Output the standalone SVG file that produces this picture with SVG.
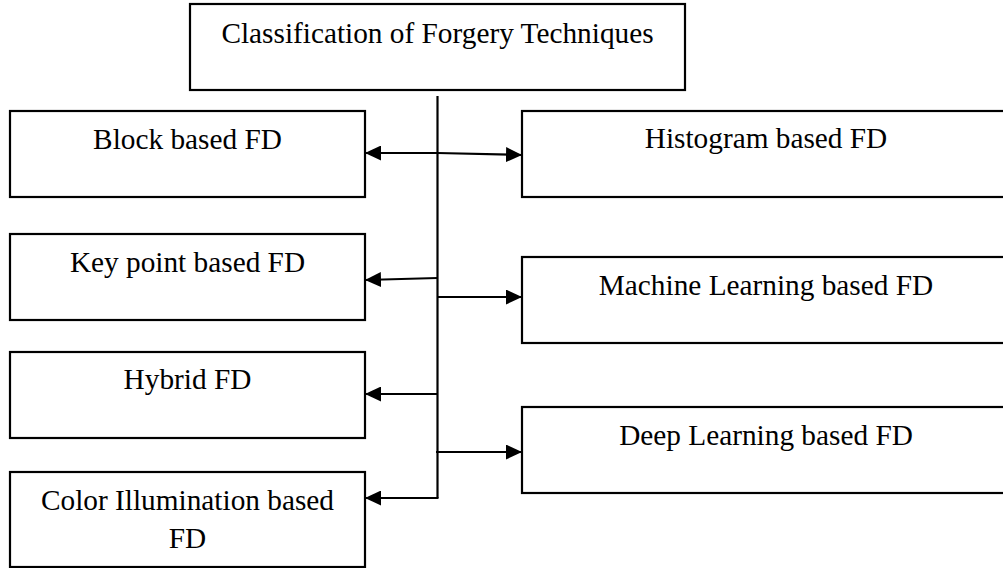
<svg xmlns="http://www.w3.org/2000/svg" width="1003" height="568" viewBox="0 0 1003 568">
  <style>
    .box { fill: #ffffff; stroke: #000000; stroke-width: 2.2; }
    .lbl { font-family: "Liberation Serif", "Times New Roman", serif; font-size: 29.3px; fill: #000000; text-anchor: middle; }
    .wire { fill: none; stroke: #000000; stroke-width: 2.2; }
    .arrow { marker-end: url(#head); }
  </style>
  <defs>
    <marker id="head" markerUnits="userSpaceOnUse" markerWidth="16" markerHeight="15" refX="16" refY="7.5" orient="auto-start-reverse">
      <path d="M0,0 L16,7.5 L0,15 Z" fill="#000000"/>
    </marker>
  </defs>
  <rect width="1003" height="568" fill="#ffffff"/>

  <!-- root -->
  <g id="root">
    <rect class="box" x="190" y="4" width="495" height="86"/>
    <text class="lbl" x="437.5" y="43">Classification of Forgery Techniques</text>
  </g>

  <!-- left column -->
  <g id="block">
    <rect class="box" x="10" y="111" width="355" height="86"/>
    <text class="lbl" x="187.5" y="149">Block based FD</text>
  </g>
  <g id="keypoint">
    <rect class="box" x="10" y="234" width="355" height="86"/>
    <text class="lbl" x="187.5" y="272">Key point based FD</text>
  </g>
  <g id="hybrid">
    <rect class="box" x="10" y="352" width="355" height="86"/>
    <text class="lbl" x="187.5" y="389">Hybrid FD</text>
  </g>
  <g id="color">
    <rect class="box" x="10" y="472" width="355" height="95"/>
    <text class="lbl" x="187.5" y="510">Color Illumination based</text>
    <text class="lbl" x="187.5" y="548">FD</text>
  </g>

  <!-- right column -->
  <g id="histogram">
    <rect class="box" x="522" y="111" width="488" height="86"/>
    <text class="lbl" x="766" y="148">Histogram based FD</text>
  </g>
  <g id="machine">
    <rect class="box" x="522" y="257" width="488" height="86"/>
    <text class="lbl" x="766" y="295">Machine Learning based FD</text>
  </g>
  <g id="deep">
    <rect class="box" x="522" y="407" width="488" height="86"/>
    <text class="lbl" x="766" y="445">Deep Learning based FD</text>
  </g>

  <!-- connectors -->
  <g id="connectors">
    <line class="wire" x1="437.5" y1="96" x2="437.5" y2="498"/>
    <polyline class="wire" points="365,153 437.5,153 522,155" marker-start="url(#head)" marker-end="url(#head)"/>
    <line class="wire arrow" x1="437.5" y1="278" x2="365" y2="280"/>
    <line class="wire arrow" x1="437.5" y1="297" x2="522" y2="297"/>
    <line class="wire arrow" x1="437.5" y1="394" x2="365" y2="394"/>
    <line class="wire arrow" x1="436" y1="452" x2="522" y2="452"/>
    <line class="wire arrow" x1="438.5" y1="498" x2="365" y2="498"/>
  </g>
</svg>
